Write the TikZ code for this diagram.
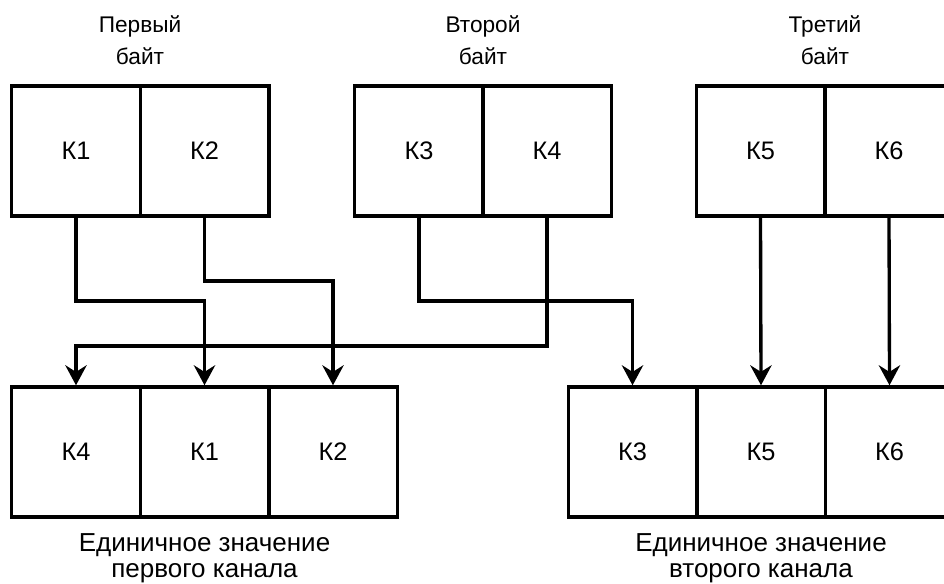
\documentclass[tikz,border=0pt]{standalone}
\usepackage{fontspec}
\setmainfont{Liberation Sans}
\usetikzlibrary{arrows.meta}
\begin{document}
\begin{tikzpicture}[x=0.75pt,y=-0.75pt,
  cell/.style={draw=black,line width=2.6pt,minimum width=96.4pt,minimum height=97.5pt,inner sep=0pt,font=\fontsize{19}{22}\selectfont},
  conn/.style={draw=black,line width=2.5pt},
  arr/.style={conn,-{Stealth[length=15pt,width=16pt,inset=5pt]}},
  toplabel/.style={align=center,inner sep=0pt,font=\fontsize{17}{24}\selectfont},
  botlabel/.style={align=center,inner sep=0pt,font=\fontsize{19.5}{19.5}\selectfont}]
\useasboundingbox (0,0) rectangle (944,583);
\fill[white] (0,0) rectangle (944,583);
\clip (0,0) rectangle (944,583);
% top cells
\node[cell] (t1) at (76,151) {К1};
\node[cell] (t2) at (204.5,151) {К2};
\node[cell] (t3) at (419,151) {К3};
\node[cell] (t4) at (547,151) {К4};
\node[cell] (t5) at (760.5,151) {К5};
\node[cell] (t6) at (889,151) {К6};
% bottom cells
\node[cell] (b4) at (76,452) {К4};
\node[cell] (b1) at (204.5,452) {К1};
\node[cell] (b2) at (333,452) {К2};
\node[cell] (b3) at (632.5,452) {К3};
\node[cell] (b5) at (761,452) {К5};
\node[cell] (b6) at (889.5,452) {К6};
% labels
\node[toplabel] (l1) at (140,40) {Первый\\байт};
\node[toplabel] (l2) at (483,40) {Второй\\байт};
\node[toplabel] (l3) at (825,40) {Третий\\байт};
\node[botlabel] (l4) at (204.5,558) {Единичное значение\\первого канала};
\node[botlabel] (l5) at (761,558) {Единичное значение\\второго канала};
% bend levels
\coordinate (h1) at (0,301);
\coordinate (h2) at (0,281);
\coordinate (h4) at (0,346);
% connectors
\draw[arr] (t1.south) -- (t1.south |- h1) -| (b1.north);
\draw[arr] (t2.south) -- (t2.south |- h2) -| (b2.north);
\draw[arr] (t3.south) -- (t3.south |- h1) -| (b3.north);
\draw[arr] (t4.south) -- (t4.south |- h4) -| (b4.north);
\draw[arr] (t5.south) -- (b5.north);
\draw[arr] (t6.south) -- (b6.north);
\end{tikzpicture}
\end{document}
